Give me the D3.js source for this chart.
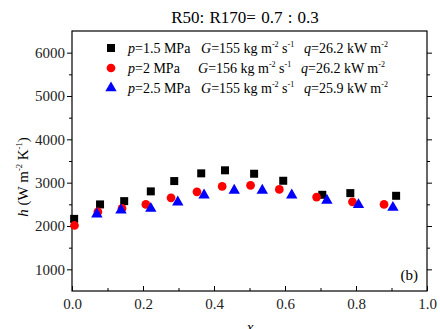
<!DOCTYPE html>
<html>
<head>
<meta charset="utf-8">
<script src="https://cdn.jsdelivr.net/npm/d3@7"></script>
<style>
  body { margin: 0; background: #fff; }
  svg text { font-family: "Times New Roman", "Liberation Serif", Times, "DejaVu Serif", serif !important; }
</style>
</head>
<body>
<div id="chart"></div>
<script>
// series
const xSq = [0.006, 0.079, 0.147, 0.222, 0.288, 0.364, 0.431, 0.513, 0.595, 0.705, 0.784, 0.913];
const hSq = [2164, 2498, 2574, 2799, 3037, 3215, 3285, 3206, 3044, 2720, 2759, 2697];
const xCi = [0.007, 0.073, 0.141, 0.208, 0.279, 0.352, 0.423, 0.503, 0.584, 0.689, 0.790, 0.879];
const hCi = [2012, 2326, 2405, 2498, 2650, 2789, 2914, 2938, 2845, 2667, 2558, 2498];
const xTr = [0.070, 0.138, 0.222, 0.298, 0.372, 0.457, 0.536, 0.619, 0.718, 0.807, 0.904];
const hTr = [2296, 2389, 2428, 2574, 2736, 2845, 2845, 2736, 2613, 2512, 2451];

const xTicks = [0, 0.2, 0.4, 0.6, 0.8, 1.0];
const yTicks = [1000, 2000, 3000, 4000, 5000, 6000];

const W = 440, H = 329;
const margin = {left: 72, right: 13, top: 31, bottom: 38};

let svg = d3.select("#chart").append("svg")
    .attr("width", W).attr("height", H);

let x = d3.scaleLinear().domain([0, 1]).range([margin.left, W - margin.right]);
let y = d3.scaleLinear().domain([500, 6500]).range([H - margin.bottom, margin.top]);

// title
svg.append("text")
    .attr("x", 245).attr("y", 23)
    .attr("text-anchor", "middle")
    .style("font-size", "17px")
    .style("word-spacing", "1px")
    .text("R50: R170= 0.7 : 0.3");

// frame
svg.append("rect")
    .attr("x", x(0)).attr("y", y(6500))
    .attr("width", x(1) - x(0)).attr("height", y(500) - y(6500))
    .attr("fill", "none").attr("stroke", "#000").attr("stroke-width", 1.2);

// bottom axis, ticks inward
let xAxis = svg.append("g")
    .attr("transform", `translate(0,${y(500)})`)
    .call(d3.axisBottom(x).tickValues(xTicks).tickFormat(d3.format(".1f"))
        .tickSizeInner(-5).tickSizeOuter(0).tickPadding(7));
let xMinor = svg.append("g")
    .attr("transform", `translate(0,${y(500)})`)
    .call(d3.axisBottom(x).tickValues(d3.range(0.1, 1, 0.2)).tickFormat("")
        .tickSizeInner(-3).tickSizeOuter(0));

// left axis, ticks outward
let yAxis = svg.append("g")
    .attr("transform", `translate(${x(0)},0)`)
    .call(d3.axisLeft(y).tickValues(yTicks).tickSizeInner(5).tickSizeOuter(0).tickPadding(2)
        .tickFormat(d3.format("d")));
let yMinor = svg.append("g")
    .attr("transform", `translate(${x(0)},0)`)
    .call(d3.axisLeft(y).tickValues(d3.range(1500, 6500, 1000)).tickFormat("")
        .tickSizeInner(3).tickSizeOuter(0));

// right axis, ticks only
let yRight = svg.append("g")
    .attr("transform", `translate(${x(1)},0)`)
    .call(d3.axisRight(y).tickValues(yTicks).tickFormat("").tickSizeInner(5).tickSizeOuter(0));
let yRightMinor = svg.append("g")
    .attr("transform", `translate(${x(1)},0)`)
    .call(d3.axisRight(y).tickValues(d3.range(1500, 6500, 1000)).tickFormat("")
        .tickSizeInner(3).tickSizeOuter(0));

[xAxis, xMinor, yAxis, yMinor, yRight, yRightMinor].forEach(g => {
    g.attr("font-family", null);
    g.select(".domain").remove();
    g.selectAll("line").attr("stroke", "#000").attr("stroke-width", 1);
    g.selectAll("text").style("font-size", "15px").attr("fill", "#222");
});

// markers
const sq = d3.symbol().type(d3.symbolSquare).size(64);
const ci = d3.symbol().type(d3.symbolCircle).size(60);
const tr = d3.symbol().type(d3.symbolTriangle).size(56);

svg.append("g").selectAll("path").data(xSq.map((v, i) => [v, hSq[i]])).join("path")
    .attr("d", sq).attr("transform", d => `translate(${x(d[0])},${y(d[1])})`).attr("fill", "#000");
svg.append("g").selectAll("path").data(xCi.map((v, i) => [v, hCi[i]])).join("path")
    .attr("d", ci).attr("transform", d => `translate(${x(d[0])},${y(d[1])})`).attr("fill", "#ff0000");
svg.append("g").selectAll("path").data(xTr.map((v, i) => [v, hTr[i]])).join("path")
    .attr("d", tr).attr("transform", d => `translate(${x(d[0])},${y(d[1]) + 1})`).attr("fill", "#0000ff");

// legend
const legend = [
    {sym: sq, color: "#000", p: "1.5 MPa", G: "155", q: "26.2", gx: 201, qx: 304},
    {sym: ci, color: "#ff0000", p: "2 MPa", G: "156", q: "26.2", gx: 198, qx: 301},
    {sym: tr, color: "#0000ff", p: "2.5 MPa", G: "155", q: "25.9", gx: 201, qx: 304}
];

legend.forEach((d, i) => {
    let ly = 48 + i * 20;
    svg.append("path").attr("d", d.sym)
        .attr("transform", `translate(111,${ly})`).attr("fill", d.color);
    let t = svg.append("text").attr("y", ly + 5).style("font-size", "14px");
    t.append("tspan").attr("x", 128).style("font-style", "italic").text("p");
    t.append("tspan").text("=" + d.p);
    t.append("tspan").attr("x", d.gx).style("font-style", "italic").text("G");
    t.append("tspan").text("=" + d.G + " kg m");
    t.append("tspan").attr("dy", -6).style("font-size", "8px").text("-2");
    t.append("tspan").attr("dy", 6).text(" s");
    t.append("tspan").attr("dy", -6).style("font-size", "8px").text("-1");
    t.append("tspan").attr("x", d.qx).attr("dy", 6).style("font-style", "italic").text("q");
    t.append("tspan").text("=" + d.q + " kW m");
    t.append("tspan").attr("dy", -6).style("font-size", "8px").text("-2");
});

// y label
let yl = svg.append("text")
    .attr("transform", "translate(28,177) rotate(-90)")
    .attr("text-anchor", "middle")
    .style("font-size", "15px");
yl.append("tspan").style("font-style", "italic").text("h");
yl.append("tspan").text(" (W m");
yl.append("tspan").attr("dy", -6).style("font-size", "8.5px").text("-2");
yl.append("tspan").attr("dy", 6).text(" K");
yl.append("tspan").attr("dy", -6).style("font-size", "8.5px").text("-1");
yl.append("tspan").attr("dy", 6).text(")");

// x label (partly below the bottom edge, as in the original)
svg.append("text")
    .attr("x", 250).attr("y", 332)
    .attr("text-anchor", "middle")
    .style("font-size", "15px").style("font-style", "italic")
    .text("x");

// panel tag
svg.append("text")
    .attr("x", 418).attr("y", 280)
    .attr("text-anchor", "end")
    .style("font-size", "15px")
    .text("(b)");
</script>
</body>
</html>
